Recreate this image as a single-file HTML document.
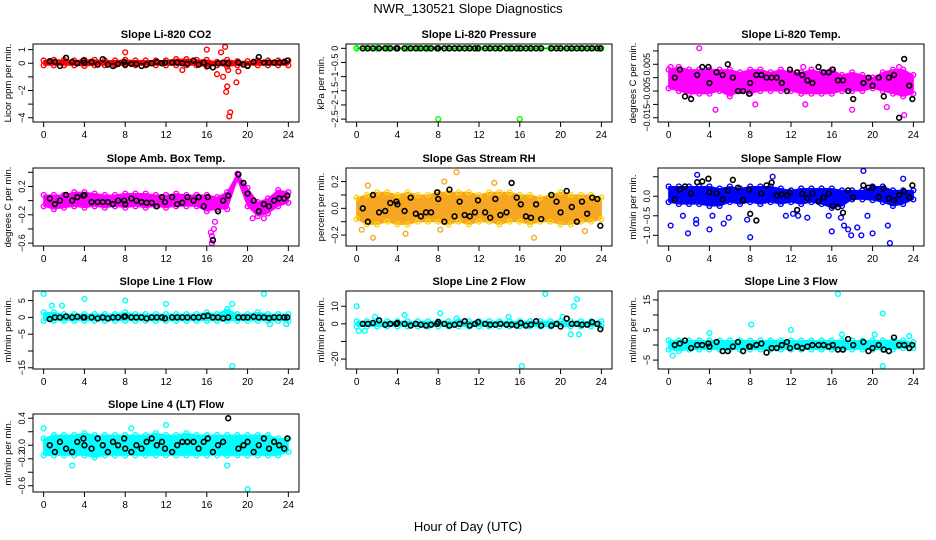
<!DOCTYPE html>
<html><head><meta charset="utf-8"><style>
body{margin:0;background:#fff}
svg{display:block;font-family:"Liberation Sans",Arial,sans-serif}
</style></head><body>
<svg id="chart" width="936" height="540" viewBox="0 0 936 540" xmlns="http://www.w3.org/2000/svg">
<text x="468" y="13" text-anchor="middle" font-size="13">NWR_130521  Slope Diagnostics</text>
<text x="468" y="531" text-anchor="middle" font-size="13">Hour of Day (UTC)</text>
</svg>
<script>
const blackHours=[0.6,1.1,1.6,2.2,2.8,3.3,3.9,4.0,4.7,5.3,5.8,6.3,6.8,7.3,7.9,8.0,8.6,9.1,9.6,10.1,10.6,11.1,11.6,11.9,12.6,13.1,13.6,14.1,14.7,15.2,15.7,16.1,16.6,17.1,17.6,18.1,19.1,19.6,20.0,20.6,21.1,21.6,22.1,22.6,23.1,23.6,23.9];
const bandHours=[0,1,2,3,4,5,6,7,8,9,10,11,12,13,14,15,16,17,18,19,20,21,22,23,24];
const xTicks=[0,4,8,12,16,20,24];

const co2Hi=[.2,.25,.25,.2,.25,.25,.2,.2,.25,.2,.2,.2,.2,.3,.3,.25,.25,.1,.25,.15,.15,.2,.2,.2,.2];
const co2Lo=[-.15,-.15,-.15,-.15,-.2,-.15,-.15,-.15,-.15,-.15,-.15,-.15,-.15,-.15,-.15,-.15,-.25,-.15,-.25,-.15,-.15,-.15,-.15,-.15,-.15];
const co2OutT=[8,13.6,16,17,17.4,17.8,17.6,17.9,18,18.1,18.3,18.2,18.9,19.1];
const co2OutV=[0.8,-0.5,1,-0.8,0.8,1.2,-1,-2.1,-1.7,-0.5,-3.6,-3.9,-1.4,-0.6];
const co2Black=[.15,.1,-.2,.4,.1,0,.2,.05,.1,-.1,.3,-.1,-.2,-.05,.1,-.1,-.05,-.05,-.2,-.1,0,.1,0,.05,.05,.05,0,-.05,.2,-.1,.05,-.2,-.3,0,.05,0,.05,-.1,-.2,.1,.45,.05,.05,.05,.05,.1,.2];

const presHi=[.01,.01,.01,.01,.01,.01,.01,.01,.01,.01,.01,.01,.01,.01,.01,.01,.01,.01,.01,.01,.01,.01,.01,.01,.01];
const presLo=[-.01,-.01,-.01,-.01,-.01,-.01,-.01,-.01,-.01,-.01,-.01,-.01,-.01,-.01,-.01,-.01,-.01,-.01,-.01,-.01,-.01,-.01,-.01,-.01,-.01];
const presOutT=[8,16];
const presOutV=[-2.5,-2.5];
const presBlack=[0,0,0,0,0,0,0,0,0,0,0,0,0,0,0,0,0,0,0,0,0,0,0,0,0,0,0,0,0,0,0,0,0,0,0,0,0,0,0,0,0,0,0,0,0,0,0];

const tempHi=[.003,.004,.003,.003,.003,.003,.003,.002,.003,.003,.002,.003,.002,.002,.003,.002,.003,.001,.002,.001,.0,.002,.003,.003,.001];
const tempLo=[-.004,-.005,-.006,-.006,-.006,-.005,-.007,-.005,-.006,-.005,-.005,-.005,-.005,-.006,-.006,-.006,-.006,-.005,-.005,-.005,-.004,-.005,-.006,-.007,-.006];
const tempOutT=[3,4.6,8.5,13.4,18,21.4,23.1,22.6,13.2,0.2];
const tempOutV=[.011,-.012,-.01,-.01,-.012,-.011,-.014,.004,.004,.004];
const tempBlack=[0,.003,-.007,-.008,.001,.004,.004,-.002,.002,.001,.005,0,-.005,-.005,-.006,-.002,.001,.001,0,0,0,-.002,-.005,.003,.002,.001,-.001,-.002,.004,.002,.002,.003,-.001,-.001,-.005,-.008,-.002,0,-.003,0,-.007,0,.001,-.015,.007,-.003,-.008];

const ambHi=[.08,.08,.08,.12,.12,.1,.08,.08,.1,.1,.1,.08,.08,.1,.08,.08,.08,.05,.12,.38,.18,-.02,.03,.15,.12];
const ambLo=[-.08,-.12,-.1,-.08,-.1,-.08,-.1,-.08,-.1,-.08,-.1,-.08,-.1,-.08,-.08,-.08,-.15,-.12,-.12,.3,-.08,-.22,-.18,-.08,-.03];
const ambOutT=[16.4,16.5,16.6,16.7,16.8,16.5,20.5,21.6];
const ambOutV=[-.45,-.5,-.55,-.4,-.3,-.6,-.25,-.25];
const ambBlack=[.03,-.05,0,.08,0,.05,.07,.08,-.02,-.02,-.02,-.02,-.05,0,0,-.05,.03,0,-.02,-.03,-.03,-.08,.05,-.02,.05,-.05,-.03,.05,0,.05,-.08,.05,-.56,-.15,0,.07,.37,.25,.1,0,-.15,-.05,-.08,0,.03,.03,.07];

const rhHi=[.08,.1,.12,.12,.1,.12,.1,.1,.12,.12,.12,.12,.1,.12,.12,.12,.1,.1,.08,.1,.12,.1,.1,.1,.08];
const rhLo=[-.08,-.12,-.12,-.1,-.12,-.12,-.1,-.1,-.1,-.12,-.1,-.12,-.1,-.1,-.12,-.1,-.1,-.12,-.1,-.1,-.12,-.12,-.1,-.1,-.08];
const rhOutT=[0.5,1.1,1.6,4.8,8.2,9.8,17.4,22.4,13.5,8.6];
const rhOutV=[-.16,.17,-.22,-.19,-.16,.27,-.22,-.17,.19,.2];
const rhBlack=[0,-.1,.1,-.03,-.02,.04,.05,.03,-.02,.08,-.04,-.06,-.03,-.03,.12,.07,-.1,.14,-.06,.05,-.05,-.06,-.03,.06,-.03,-.07,.07,-.05,-.03,.19,.08,.03,-.06,-.07,.03,-.08,.1,.05,-.03,.13,.01,-.1,.05,-.04,.08,.07,-.13];

const sfHi=[.25,.25,.25,.25,.25,.2,.25,.2,.25,.25,.25,.2,.15,.2,.2,.2,.2,.15,.15,.15,.25,.25,.15,.15,.15];
const sfLo=[-.15,-.2,-.2,-.2,-.25,-.25,-.15,-.2,-.15,-.2,-.15,-.2,-.15,-.2,-.15,-.2,-.3,-.25,-.08,-.08,-.1,-.15,-.25,-.2,-.08];
const sfOutT=[0.2,1.4,1.9,2.7,2.7,4,4.3,5.4,5.9,7.7,8,10.2,11.5,12.2,12.7,13.6,15.7,16,16.9,17.2,17.6,17.9,18.5,18.9,19.1,19.5,20,21.5,21.7,23,2.8];
const sfOutV=[-.75,-.5,-.95,-.6,-.7,-.85,-.5,-.7,-.55,-.6,-1.05,.5,-.5,-.45,-.5,-.55,-.5,-.9,-.55,-.75,-.85,-1.0,-.8,-1.0,.65,-.5,-.95,-.75,-1.2,.45,.55];
const sfBlack=[-.08,.17,.25,.07,.36,.38,.45,.1,.07,-.08,.15,.42,.22,-.1,.17,-.45,-.62,.07,.28,.35,.02,.05,.02,.1,-.35,.06,-.05,.07,-.14,-.03,.07,-.25,-.28,-.42,.15,-.03,.28,.22,.22,-.02,.2,-.05,-.1,.03,.12,-.03,.28];

const l1Hi=[1.5,1.5,1,1,1,1,1,1,1.5,1,1,1,1,1,1,1,1.5,1,2.5,1,1,1.5,1,1,1];
const l1Lo=[-1,-1,-1,-1,-1,-1,-1,-1,-1,-1,-1,-1,-1,-1,-1,-1,-1,-1,-1,-1,-1,-1,-1,-1,-1];
const l1OutT=[0,0.8,1.8,4,8,12,18.5,18.5,21.6,22.2,23.8];
const l1OutV=[7,3.5,3.5,5.5,5,4,-14.5,4,7,-2,-2];
const l1Black=[-.5,0,0,.3,0,.2,0,0,0,-.3,0,-.3,0,0,.2,.3,0,0,0,-.3,0,0,0,-.3,0,0,0,0,0,0,.3,.5,0,0,-.3,0,0,0,0,.2,0,0,-.2,0,0,0,0];

const l2Hi=[1.5,1.5,1.5,1.5,1.5,1.5,1.5,1.5,1.5,1.5,1.5,1.5,1.5,1.5,1.5,1.5,1.5,1.5,1.5,1.5,1.5,1.5,1.5,1.5,1.5];
const l2Lo=[-1.5,-1.5,-1.5,-1.5,-1.5,-1.5,-1.5,-1.5,-1.5,-1.5,-1.5,-1.5,-1.5,-1.5,-1.5,-1.5,-1.5,-1.5,-1.5,-1.5,-1.5,-1.5,-1.5,-1.5,-1.5];
const l2OutT=[0,0.2,0.8,1.8,4.7,8.2,9.8,14.9,16.2,18.5,21,21.3,21.6,21.8,20.2];
const l2OutV=[10,-4,-4,4,5,6,3,4,-24,17,-6,10,14,-6,4];
const l2Black=[0,0,.5,2,-.5,0,0,.5,0,-1,0,-.5,-1,-.5,0,1,0,-1,-.5,0,1.5,-1,0,1,0,-.5,-.5,0,-.5,-.5,-1,.5,-1,-.5,1.5,-1,-1,0,-1.5,3,0,0,-.5,-.5,1,0,-3];

const l3Hi=[1.5,1.5,1.5,1.5,1.5,1.5,1.5,1.5,1.5,1.5,1.5,1.5,1.5,1.5,1.5,1.5,1.5,1.5,1.5,1.5,1.5,1.5,1.5,1.5,1];
const l3Lo=[-1.5,-2,-1.5,-1.5,-1.5,-1.5,-1.5,-1.5,-1.5,-1.5,-1.5,-1.5,-1.5,-1.5,-1.5,-1.5,-1.5,-1.5,-1.5,-1.5,-1.5,-1.5,-1.5,-1,-1];
const l3OutT=[0.4,4,8.1,12,16.6,21,21,17,20.2,23.6];
const l3OutV=[-3.5,4,6.8,5,17,10.5,-7,3.5,3.5,3];
const l3Black=[0,.5,1.5,-1,0,0,.5,-.5,1,-2,-2,-.5,1,-2,-.5,-.5,0,.5,-2.5,-1,-1,0,1,-1,-.5,-1,-.5,0,0,0,-.5,0,-1.5,-1.5,2,0,1,-2,-1,0,-1.5,-2,2.5,0,0,-1,0];

const l4Hi=[.1,.15,.15,.15,.18,.15,.15,.15,.15,.15,.15,.18,.15,.15,.18,.15,.15,.15,.15,.15,.15,.15,.15,.1,.1];
const l4Lo=[-.15,-.15,-.15,-.15,-.15,-.18,-.15,-.15,-.15,-.15,-.15,-.15,-.15,-.15,-.15,-.15,-.15,-.15,-.15,-.15,-.15,-.15,-.15,-.15,-.1];
const l4OutT=[20,0,2.8,12,18,8.6];
const l4OutV=[-.65,.25,-.3,.3,-.3,.25];
const l4Black=[0,-.1,.05,-.05,-.1,.05,.1,0,-.05,.1,0,-.1,.05,0,.1,-.05,-.1,0,-.05,.05,.1,0,.05,-.05,-.1,0,.05,.05,.05,-.05,.05,.1,-.1,0,.05,.4,-.05,0,.05,-.1,0,.1,-.05,.05,0,-.05,.1];

const panels=[
 {name:'co2',title:'Slope Li-820 CO2',ylab:'Licor ppm per min.',col:0,row:0,ymin:-4.1,ymax:1.2,ticks:[1,0,-1,-2,-3,-4],labels:['1','0','','\u22122','','\u22124'],fill:'#ff0000',stroke:'#ff0000',hi:co2Hi,lo:co2Lo,ot:co2OutT,ov:co2OutV,black:co2Black},
 {name:'pressure',title:'Slope Li-820 Pressure',ylab:'kPa per min.',col:1,row:0,ymin:-2.5,ymax:0.05,ticks:[0,-0.5,-1,-1.5,-2,-2.5],labels:['0','\u22120.5','\u22121','\u22121.5','\u22122','\u22122.5'],fill:'#00cc00',stroke:'#00ff00',hi:presHi,lo:presLo,ot:presOutT,ov:presOutV,black:presBlack},
 {name:'temp',title:'Slope Li-820 Temp.',ylab:'degrees C per min.',col:2,row:0,ymin:-0.0155,ymax:0.0115,ticks:[0.01,0.005,0,-0.005,-0.01,-0.015],labels:['','0.005','','\u22120.005','','\u22120.015'],fill:'#ff00ff',stroke:'#ff00ff',hi:tempHi,lo:tempLo,ot:tempOutT,ov:tempOutV,black:tempBlack},
 {name:'amb-box-temp',title:'Slope Amb. Box Temp.',ylab:'degrees C per min.',col:0,row:1,ymin:-0.6,ymax:0.42,ticks:[0.4,0.2,0,-0.2,-0.4,-0.6],labels:['','0.2','','\u22120.2','','\u22120.6'],fill:'#ff00ff',stroke:'#ff00ff',hi:ambHi,lo:ambLo,ot:ambOutT,ov:ambOutV,black:ambBlack},
 {name:'gas-rh',title:'Slope Gas Stream RH',ylab:'percent per min.',col:1,row:1,ymin:-0.26,ymax:0.28,ticks:[0.2,0.1,0,-0.1,-0.2],labels:['0.2','','0.0','','\u22120.2'],fill:'#f5a623',stroke:'#ffd700',hi:rhHi,lo:rhLo,ot:rhOutT,ov:rhOutV,black:rhBlack},
 {name:'sample-flow',title:'Slope Sample Flow',ylab:'ml/min per min.',col:2,row:1,ymin:-1.2,ymax:0.65,ticks:[0.5,0,-0.5,-1],labels:['','0.0','\u22120.5','\u22121.0'],fill:'#0000ff',stroke:'#0000ff',hi:sfHi,lo:sfLo,ot:sfOutT,ov:sfOutV,black:sfBlack},
 {name:'line1-flow',title:'Slope Line 1 Flow',ylab:'ml/min per min.',col:0,row:2,ymin:-14.5,ymax:7,ticks:[5,0,-5,-10,-15],labels:['5','0','\u22125','','\u221215'],fill:'#00ffff',stroke:'#00ffff',hi:l1Hi,lo:l1Lo,ot:l1OutT,ov:l1OutV,black:l1Black},
 {name:'line2-flow',title:'Slope Line 2 Flow',ylab:'ml/min per min.',col:1,row:2,ymin:-24,ymax:17,ticks:[10,0,-10,-20],labels:['10','0','','\u221220'],fill:'#00ffff',stroke:'#00ffff',hi:l2Hi,lo:l2Lo,ot:l2OutT,ov:l2OutV,black:l2Black},
 {name:'line3-flow',title:'Slope Line 3 Flow',ylab:'ml/min per min.',col:2,row:2,ymin:-7,ymax:17,ticks:[15,10,5,0,-5],labels:['15','','5','','\u22125'],fill:'#00ffff',stroke:'#00ffff',hi:l3Hi,lo:l3Lo,ot:l3OutT,ov:l3OutV,black:l3Black},
 {name:'line4-flow',title:'Slope Line 4 (LT) Flow',ylab:'ml/min per min.',col:0,row:3,ymin:-0.65,ymax:0.42,ticks:[0.4,0.2,0,-0.2,-0.4,-0.6],labels:['0.4','','0.0','\u22120.2','','\u22120.6'],fill:'#00ffff',stroke:'#00ffff',hi:l4Hi,lo:l4Lo,ot:l4OutT,ov:l4OutV,black:l4Black}
];

const NS='http://www.w3.org/2000/svg';
const svg=document.getElementById('chart');
const colLeft=[33,346,658], rowTop=[44,168,291,414], W=266, H=78;
function mk(tag,attrs,parent){const e=document.createElementNS(NS,tag);for(const k in attrs)e.setAttribute(k,attrs[k]);parent.appendChild(e);return e;}

panels.forEach(p=>{
  const L=colLeft[p.col], T=rowTop[p.row];
  const g=mk('g',{},svg);
  
  
  const xs=t=>L+W*(0.04+0.92*t/24);
  const r=p.ymax-p.ymin;
  const ys=v=>T+H*((p.ymax+0.04*r)-v)/(1.08*r);
  let pts=p.hi.map((v,i)=>xs(bandHours[i])+','+ys(v));
  for(let i=p.lo.length-1;i>=0;i--)pts.push(xs(bandHours[i])+','+ys(p.lo[i]));
  const band=mk('polygon',{points:pts.join(' '),fill:p.fill,stroke:p.fill,'stroke-width':1,'stroke-linejoin':'round'},g);
  
  
  p.hi.forEach((v,i)=>{
    const c=mk('circle',{cx:xs(bandHours[i]),cy:ys(v),r:2.4,fill:'none',stroke:p.stroke,'stroke-width':1.4},g);
    
    
  });
  p.lo.forEach((v,i)=>{
    const c=mk('circle',{cx:xs(bandHours[i]),cy:ys(v),r:2.4,fill:'none',stroke:p.stroke,'stroke-width':1.4},g);
    
    
  });
  p.ot.forEach((t,i)=>{
    const c=mk('circle',{cx:xs(t),cy:ys(p.ov[i]),r:2.4,fill:'none',stroke:p.stroke==='#ffd700'?'#f5a623':p.stroke,'stroke-width':1.4},g);
    
    
  });
  p.black.forEach((v,i)=>{
    if(i>=blackHours.length)return;
    const c=mk('circle',{cx:xs(blackHours[i]),cy:ys(v),r:2.4,fill:'none',stroke:'#000','stroke-width':1.6},g);
    
    
  });
  const box=mk('rect',{x:L,y:T,width:W,height:H,fill:'none',stroke:'#000','stroke-width':1},g);
  
  
  xTicks.forEach(t=>{
    const x=xs(t);
    mk('line',{x1:x,y1:T+H,x2:x,y2:T+H+5,stroke:'#000'},g);
    const tx=mk('text',{x:x,y:T+H+16,'text-anchor':'middle','font-size':10},g);
    tx.textContent=t;
    
    
  });
  p.ticks.forEach((v,i)=>{
    const y=ys(v);
    mk('line',{x1:L,y1:y,x2:L-5,y2:y,stroke:'#000'},g);
    if(p.labels[i]){
      const tx=mk('text',{x:0,y:0,'text-anchor':'middle','font-size':9,transform:`translate(${L-8},${y}) rotate(-90)`},g);
      tx.textContent=p.labels[i];
      
      
    }
  });
  const yl=mk('text',{x:0,y:0,'text-anchor':'middle','font-size':9.5,transform:`translate(${L-22},${T+H/2}) rotate(-90)`},g);
  yl.textContent=p.ylab;
  
  
  const tt=mk('text',{x:L+W/2,y:T-6,'text-anchor':'middle','font-size':11,'font-weight':'bold'},g);
  tt.textContent=p.title;
  
  
});
</script>
</body></html>
